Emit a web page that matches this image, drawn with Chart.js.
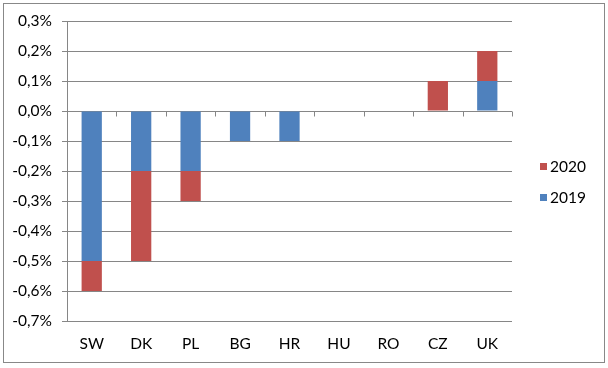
<!DOCTYPE html>
<html>
<head>
<meta charset="utf-8">
<script src="https://cdn.jsdelivr.net/npm/chart.js@4/dist/chart.umd.min.js"></script>
<style>
  body { margin: 0; background: #fff; }
  #wrap { position: absolute; left: 0; top: 0; width: 608px; height: 368px; }
</style>
</head>
<body>
<div id="wrap"><canvas id="CHART" width="608" height="368"></canvas></div>
<script>
const countries = ['SW', 'DK', 'PL', 'BG', 'HR', 'HU', 'RO', 'CZ', 'UK'];
const values2019 = [-0.5, -0.2, -0.2, -0.1, -0.1, 0, 0, 0, 0.1];
const values2020 = [-0.1, -0.3, -0.1, 0, 0, 0, 0, 0.1, 0.1];
const yMin = -0.7;
const yMax = 0.3;

const FONT = { family: 'Lato, "Open Sans", sans-serif', size: 15.5 };
const GRID = '#868686';

// outer frame + little ticks on the zero line + legend on the right
const extras = {
    id: 'extras',
    beforeDraw(chart) {
        const ctx = chart.ctx;
        ctx.save();
        ctx.fillStyle = '#fff';
        ctx.fillRect(0, 0, chart.width, chart.height);
        ctx.strokeStyle = '#888';
        ctx.lineWidth = 1;
        ctx.strokeRect(3.5, 3.5, 601, 359);
        ctx.restore();
    },
    afterDatasetsDraw(chart) {
        const ctx = chart.ctx;
        const x = chart.scales.x, y = chart.scales.y;
        const y0 = Math.round(y.getPixelForValue(0)) + 0.5;
        const step = (x.right - x.left) / countries.length;
        ctx.save();
        ctx.strokeStyle = GRID;
        ctx.lineWidth = 1;
        ctx.beginPath();
        for (let i = 0; i <= countries.length; i++) {
            const px = Math.round(x.left + i * step) + 0.5;
            ctx.moveTo(px, y0);
            ctx.lineTo(px, y0 + 5);
        }
        ctx.stroke();

        // legend, 2020 above 2019
        const items = chart.data.datasets.slice().reverse();
        ctx.font = FONT.size + 'px ' + FONT.family;
        ctx.textBaseline = 'middle';
        items.forEach((ds, i) => {
            const cy = 166 + i * 31;
            ctx.fillStyle = ds.backgroundColor;
            ctx.fillRect(540, cy - 3, 7, 7);
            ctx.fillStyle = '#000';
            ctx.fillText(ds.label, 550, cy + 1);
        });
        ctx.restore();
    }
};

new Chart(document.getElementById('CHART').getContext('2d'), {
    type: 'bar',
    data: {
        labels: countries,
        datasets: [
            { label: '2019', data: values2019, backgroundColor: '#4F81BD' },
            { label: '2020', data: values2020, backgroundColor: '#C0504D' }
        ]
    },
    options: {
        responsive: false,
        animation: false,
        devicePixelRatio: 1,
        categoryPercentage: 1,
        barPercentage: 0.41,
        layout: { padding: { left: 7, right: 96, top: 21, bottom: 0 } },
        plugins: {
            legend: { display: false },
            tooltip: { enabled: false }
        },
        scales: {
            x: {
                stacked: true,
                grid: { display: false },
                border: { display: false },
                ticks: { color: '#000', font: FONT, padding: 6 },
                afterFit: (s) => { s.height = 47; }
            },
            y: {
                stacked: true,
                min: yMin,
                max: yMax,
                grid: { color: GRID, tickLength: 5 },
                border: { color: GRID },
                ticks: {
                    stepSize: 0.1,
                    color: '#000',
                    font: FONT,
                    padding: 10,
                    callback: (v) => (Math.round(v * 10) / 10).toFixed(1).replace('.', ',') + '%'
                },
                afterFit: (s) => { s.width = 60; }
            }
        }
    },
    plugins: [extras]
});
</script>
</body>
</html>
